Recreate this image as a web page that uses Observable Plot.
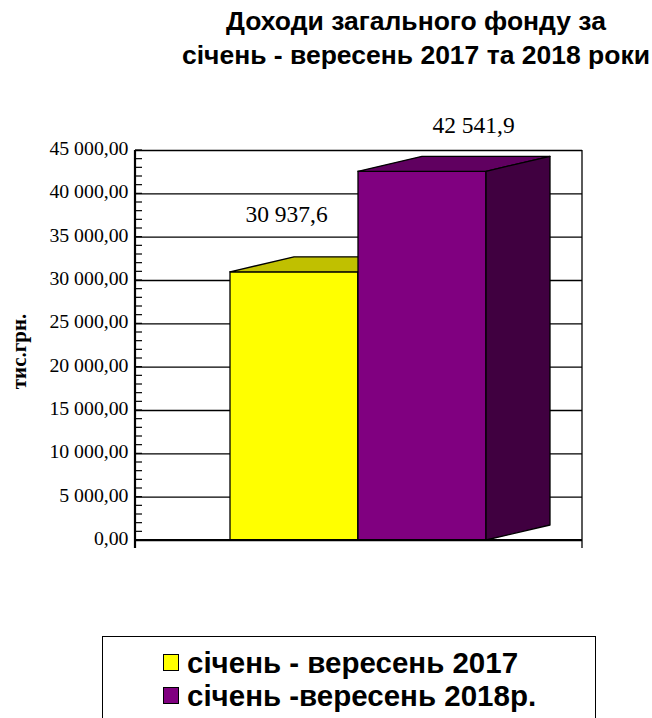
<!DOCTYPE html>
<html><head><meta charset="utf-8">
<script src="https://cdn.jsdelivr.net/npm/d3@7"></script>
<script src="https://cdn.jsdelivr.net/npm/@observablehq/plot@0.6"></script>
<style>
body{margin:0;background:#fff;}
#wrap{position:relative;width:652px;height:718px;overflow:hidden;background:#fff;}
#title{position:absolute;left:176px;width:480px;top:4px;text-align:center;font:bold 26.5px "Liberation Sans",Arial,sans-serif;line-height:34px;color:#000;}
#chart{position:absolute;left:0;top:100px;}
#legend{position:absolute;left:102px;top:636px;width:494px;height:110px;border:1.3px solid #000;box-sizing:border-box;padding-top:9px;font:bold 29.5px "Liberation Sans",Arial,sans-serif;line-height:33px;color:#000;}
.item{position:relative;padding-left:84px;white-space:nowrap;}
.sw{position:absolute;left:60px;top:8px;width:16px;height:17px;border:1.5px solid #000;box-sizing:border-box;}
</style></head>
<body><div id="wrap">
<div id="title"></div>
<div id="chart"></div>
<div id="legend"></div>
</div>
<script>
const titleLines = ["Доходи загального фонду за", "січень - вересень 2017 та 2018 роки"];
const series = ["січень - вересень 2017", "січень -вересень 2018р."];
const values = [30937.6, 42541.9];
const frontColors = ["#FFFF00", "#800080"];
const topColors = ["#C0C000", "#600060"];
const sideColors = ["#C0C000", "#400040"];
const yTicks = [0, 5000, 10000, 15000, 20000, 25000, 30000, 35000, 40000, 45000];
const yMinorTicks = d3.range(0, 45001, 1000);
const yLabel = "тис.грн.";

const loc = d3.formatLocale({decimal: ",", thousands: "\u00a0", grouping: [3], currency: ["", ""]});
const fmtTick = loc.format(",.2f");
const fmtVal = loc.format(",.1f");

document.getElementById("title").innerHTML = titleLines.map(t => `<div>${t}</div>`).join("");
document.getElementById("legend").innerHTML = series.map((s, i) =>
  `<div class="item"><span class="sw" style="background:${frontColors[i]}"></span>${s}</div>`).join("");

const data = series.map((s, i) => ({series: s, value: values[i], front: frontColors[i], top: topColors[i], side: sideColors[i]}));

const depthX = 64, depthY = 15;

function bars3d(index, scales, values_, dims) {
  const x = scales.x, y = scales.y;
  const bw = x.bandwidth();
  const g = d3.create("svg:g");
  const y0 = y(0);
  for (const d of data) {
    const x0 = x(d.series), x1 = x0 + bw, yv = y(d.value);
    g.append("rect").attr("x", x0).attr("y", yv).attr("width", bw).attr("height", y0 - yv)
      .attr("fill", d.front).attr("stroke", "#000").attr("stroke-width", 1.3);
    g.append("path").attr("d", `M${x0},${yv}L${x0 + depthX},${yv - depthY}L${x1 + depthX},${yv - depthY}L${x1},${yv}Z`)
      .attr("fill", d.top).attr("stroke", "#000").attr("stroke-width", 1.3).attr("stroke-linejoin", "round");
    g.append("path").attr("d", `M${x1},${yv}L${x1 + depthX},${yv - depthY}L${x1 + depthX},${y0 - depthY}L${x1},${y0}Z`)
      .attr("fill", d.side).attr("stroke", "#000").attr("stroke-width", 1.3).attr("stroke-linejoin", "round");
  }
  return g.node();
}

function frameLines(index, scales, values_, dims) {
  const {width, height, marginLeft, marginRight, marginTop, marginBottom} = dims;
  const y = scales.y;
  const g = d3.create("svg:g").attr("stroke", "#000");
  const xl = marginLeft, xr = width - marginRight, yt = marginTop, yb = height - marginBottom;
  for (const t of yMinorTicks) {
    g.append("line").attr("x1", xl).attr("x2", xl + 7).attr("y1", y(t)).attr("y2", y(t)).attr("stroke-width", 1.2);
  }
  g.append("line").attr("x1", xr).attr("x2", xr).attr("y1", yt).attr("y2", yb + 8).attr("stroke-width", 1.3);
  g.append("line").attr("x1", xl).attr("x2", xl).attr("y1", yt).attr("y2", yb + 8).attr("stroke-width", 2.2);
  g.append("line").attr("x1", xl).attr("x2", xr).attr("y1", yb).attr("y2", yb).attr("stroke-width", 2.2);
  return g.node();
}

const chart = Plot.plot({
  width: 652,
  height: 470,
  marginTop: 50,
  marginBottom: 30,
  marginLeft: 135,
  marginRight: 70,
  style: {background: "transparent", overflow: "visible"},
  x: {type: "band", domain: series, range: [230, 486], padding: 0, axis: null},
  y: {domain: [0, 45000], axis: null},
  marks: [
    Plot.ruleY(yTicks, {stroke: "#000", strokeWidth: 1.3}),
    Plot.axisY({ticks: yTicks, tickSize: 0, tickPadding: 7, tickFormat: fmtTick, anchor: "left", fontSize: 19.8, fontFamily: "'Liberation Serif','Times New Roman',serif", fill: "#000", dy: -2, label: null}),
    bars3d,
    frameLines,
    Plot.text(data.filter((d, i) => i === 0), {x: "series", y: "value", text: d => fmtVal(d.value), dx: -8, dy: -58, fontSize: 23.5, fontFamily: "'Liberation Serif','Times New Roman',serif", fill: "#000"}),
    Plot.text(data.filter((d, i) => i === 1), {x: "series", y: "value", text: d => fmtVal(d.value), dx: 51, dy: -46, fontSize: 23.5, fontFamily: "'Liberation Serif','Times New Roman',serif", fill: "#000"}),
    Plot.text([yLabel], {frameAnchor: "left", textAnchor: "middle", dx: -116, dy: 6, rotate: -90, text: d => d, fontSize: 21, fontWeight: "bold", fontFamily: "'Liberation Serif','Times New Roman',serif", fill: "#000"})
  ]
});
document.getElementById("chart").appendChild(chart);
</script>
</body></html>
